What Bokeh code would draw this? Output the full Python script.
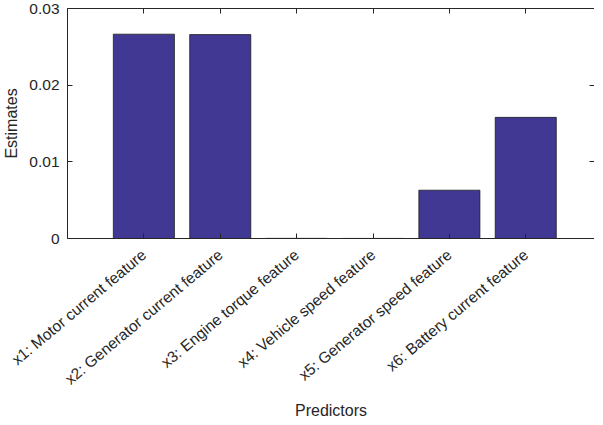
import math
from bokeh.plotting import figure
from bokeh.models import Range1d, FixedTicker, LinearAxis, NumeralTickFormatter, ColumnDataSource, CustomJSTickFormatter
from bokeh.embed import file_html
from bokeh.resources import INLINE

predictors = [
    "x1: Motor current feature",
    "x2: Generator current feature",
    "x3: Engine torque feature",
    "x4: Vehicle speed feature",
    "x5: Generator speed feature",
    "x6: Battery current feature",
]
positions = [1, 2, 3, 4, 5, 6]
estimates = [0.02665, 0.02660, 0.00002, 0.00001, 0.00630, 0.01580]
y_ticks = [0, 0.01, 0.02, 0.03]

AX = "#262626"
FONT = "Liberation Sans"
BAR = "#403892"

src = ColumnDataSource(dict(x=positions, top=estimates, name=predictors))

p = figure(
    frame_width=527, frame_height=230,
    x_range=Range1d(0, 6.9), y_range=Range1d(0, 0.03),
    output_backend="svg", toolbar_location=None,
    min_border_left=65, min_border_top=8, min_border_right=0, min_border_bottom=0,
    background_fill_color="white", border_fill_color="white",
)
p.outline_line_color = None
p.grid.visible = False

p.vbar(x="x", top="top", width=0.8, bottom=0, source=src,
       fill_color=BAR, line_color="#101010", line_width=0.7)

# bottom axis
xa = p.xaxis[0]
xa.ticker = FixedTicker(ticks=positions)
xa.major_label_overrides = {i: lab for i, lab in zip(positions, predictors)}
xa.major_label_orientation = 40 * math.pi / 180
xa.axis_label = "Predictors"

# left axis
ya = p.yaxis[0]
ya.ticker = FixedTicker(ticks=y_ticks)
ya.formatter = NumeralTickFormatter(format="0.[00]")
ya.axis_label = "Estimates"

for ax in (xa, ya):
    ax.major_tick_in = 5
    ax.major_tick_out = 0
    ax.minor_tick_line_color = None
    ax.axis_line_color = AX
    ax.major_tick_line_color = AX
    ax.major_label_text_color = AX
    ax.major_label_text_font = FONT
    ax.major_label_text_font_size = "15.5px"
    ax.axis_label_text_color = AX
    ax.axis_label_text_font = FONT
    ax.axis_label_text_font_size = "16px"
    ax.axis_label_text_font_style = "normal"

xa.major_label_standoff = 14
xa.axis_label_standoff = 5
ya.major_label_standoff = 8
ya.axis_label_standoff = 6

blank = CustomJSTickFormatter(code="return ''")
top_ax = LinearAxis(ticker=FixedTicker(ticks=positions), formatter=blank)
right_ax = LinearAxis(ticker=FixedTicker(ticks=y_ticks), formatter=blank)
for ax in (top_ax, right_ax):
    ax.major_tick_in = 5
    ax.major_tick_out = 0
    ax.minor_tick_line_color = None
    ax.axis_line_color = AX
    ax.major_tick_line_color = AX
    ax.major_label_standoff = 0
p.add_layout(top_ax, "above")
p.add_layout(right_ax, "right")

open("out.html", "w").write(file_html(p, INLINE))
